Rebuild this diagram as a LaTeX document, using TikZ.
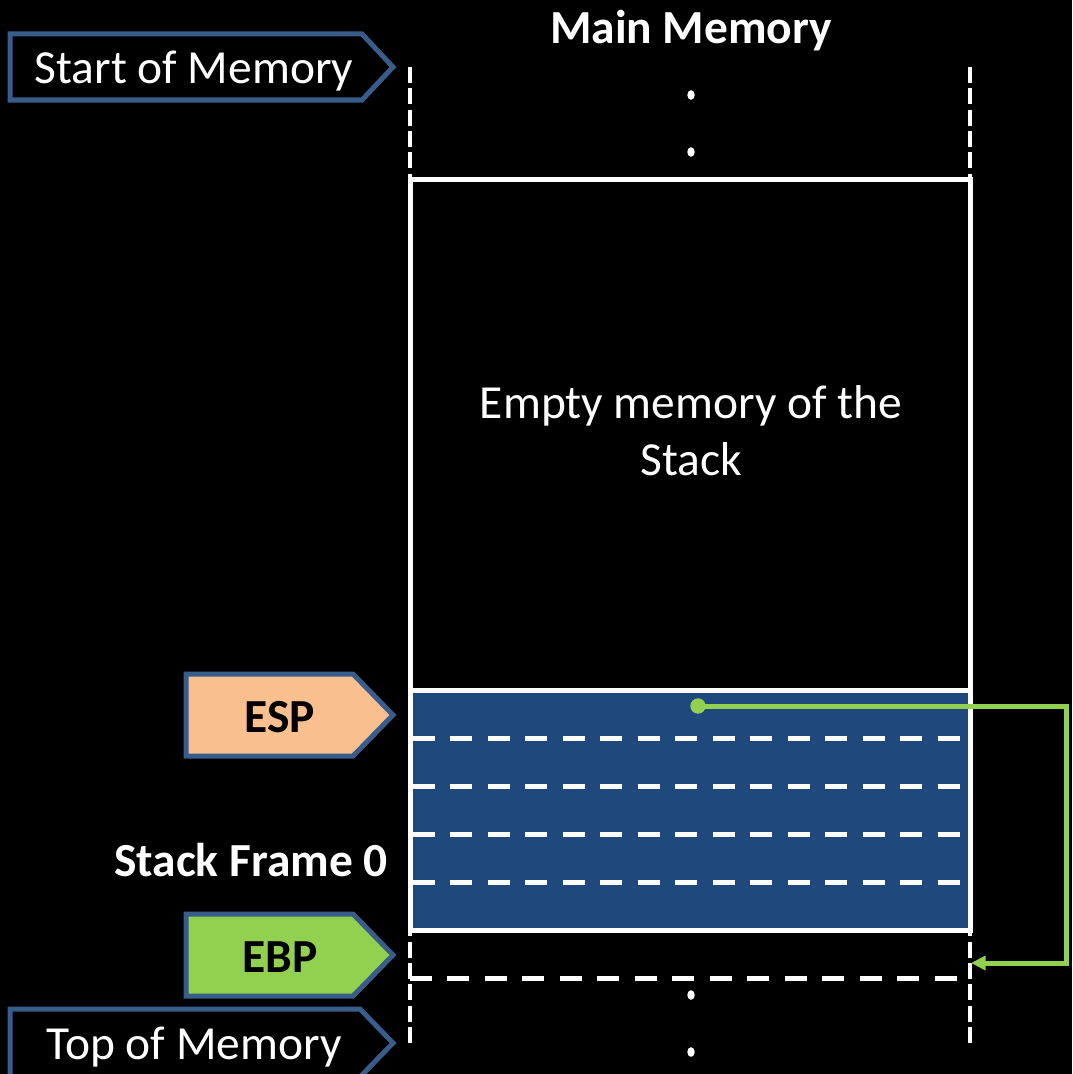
\documentclass[tikz,border=0pt]{standalone}
\usepackage{fontspec}
\setmainfont{Carlito}
\usetikzlibrary{arrows.meta}
\definecolor{frameblue}{RGB}{31,73,125}
\definecolor{tagblue}{RGB}{56,93,138}
\definecolor{esppeach}{RGB}{250,191,143}
\definecolor{ebpgreen}{RGB}{146,208,80}
\begin{document}
\begin{tikzpicture}[x=0.75pt,y=-0.75pt,
  txt/.style={font=\fontsize{35.6}{42.75}\selectfont, text=white, inner sep=0pt},
  boldtxt/.style={inner sep=0pt, text=white, font=\fontsize{35.6}{42.75}\selectfont\bfseries},
  wall/.style={white, line width=3.6pt, dash pattern=on 12pt off 4pt},
  slot/.style={white, line width=3.75pt, dash pattern=on 16.5pt off 11.6pt},
  cell/.style={draw=white, line width=3.75pt},
  tag/.style={draw=tagblue, line width=3.75pt, line join=miter},
  dotmark/.style={white},
  link/.style={ebpgreen, line width=3.75pt, -{Triangle[length=11pt,width=10.5pt]}}]
\useasboundingbox (0,0) rectangle (1072,1074);
\clip (0,0) rectangle (1072,1074);
\fill[black] (0,0) rectangle (1072,1074);

% memory walls
\draw[wall] (410,67) -- (410,1043);
\draw[wall] (970,67) -- (970,1043);

% boxes
\draw[cell, fill=black] (410,179) rectangle (970,690);
\draw[cell, fill=frameblue] (410,690) rectangle (970,930);
\foreach \yy in {738,786,834,882} {\draw[slot] (413,\yy) -- (960,\yy);}
\draw[slot] (410,978) -- (958,978);

% continuation dots
\fill[dotmark] (691,95) ellipse [x radius=2.8pt, y radius=3.6pt];
\fill[dotmark] (691,152) ellipse [x radius=2.8pt, y radius=3.6pt];
\fill[dotmark] (691,995) ellipse [x radius=2.8pt, y radius=3.6pt];
\fill[dotmark] (691,1052) ellipse [x radius=2.8pt, y radius=3.6pt];

% tags
\draw[tag, fill=black] (10,34) -- (362,34) -- (393,67) -- (362,100) -- (10,100) -- cycle;
\draw[tag, fill=esppeach] (186,674) -- (353,674) -- (393,715) -- (353,756) -- (186,756) -- cycle;
\draw[tag, fill=ebpgreen] (186,914) -- (353,914) -- (393,955) -- (353,996) -- (186,996) -- cycle;
\draw[tag, fill=black] (10,1009) -- (360,1009) -- (393,1043) -- (360,1077) -- (10,1077) -- cycle;

% texts
\node[boldtxt, anchor=base] (title) at (691,44) {Main Memory};
\node[txt, align=center] (empty) at (691,431) {Empty memory of the\\Stack};
\node[txt, anchor=base] (start) at (194,84) {Start of Memory};
\node[txt, anchor=base] (topmem) at (194,1059) {Top of Memory};
\node[boldtxt, text=black, anchor=base] (esp) at (280,732) {ESP};
\node[boldtxt, text=black, anchor=base] (ebp) at (280,972) {EBP};
\node[boldtxt, anchor=base east] (frame) at (388,876) {Stack Frame 0};

% EBP link
\node[circle, fill=ebpgreen, minimum size=11.5pt, inner sep=0pt] (espdot) at (698,706) {};
\coordinate (turn) at (1066,706);
\coordinate (ebpin) at (971,963);
\draw[link] (espdot.center) -- (turn) |- (ebpin);
\end{tikzpicture}
\end{document}
